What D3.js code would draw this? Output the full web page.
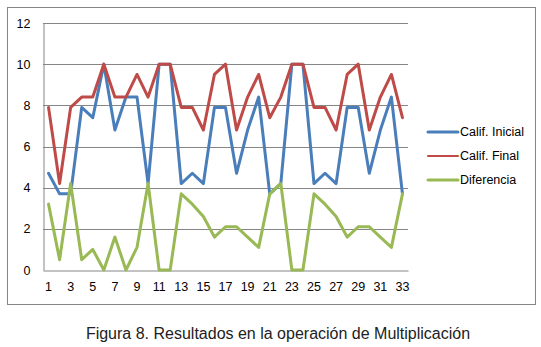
<!DOCTYPE html>
<html><head><meta charset="utf-8">
<script src="https://cdn.jsdelivr.net/npm/d3@7"></script>
<style>body{margin:0;background:#fff}svg{display:block}</style>
</head><body>
<svg id="c" width="541" height="347"></svg>
<script>
const categories = d3.range(1, 34);
const califInicial = [4.7,3.7,3.7,7.9,7.4,10,6.8,8.4,8.4,4.2,10,10,4.2,4.7,4.2,7.9,7.9,4.7,6.8,8.4,3.7,4.2,10,10,4.2,4.7,4.2,7.9,7.9,4.7,6.8,8.4,3.7];
const califFinal = [7.9,4.2,7.9,8.4,8.4,10,8.4,8.4,9.5,8.4,10,10,7.9,7.9,6.8,9.5,10,6.8,8.4,9.5,7.4,8.4,10,10,7.9,7.9,6.8,9.5,10,6.8,8.4,9.5,7.4];
const diferencia = [3.2,0.5,4.2,0.5,1.0,0,1.6,0,1.1,4.2,0,0,3.7,3.2,2.6,1.6,2.1,2.1,1.6,1.1,3.7,4.2,0,0,3.7,3.2,2.6,1.6,2.1,2.1,1.6,1.1,3.7];
const yTicks = [0,2,4,6,8,10,12];
const xTickLabels = categories.filter(d => d % 2 === 1);
const seriesNames = ["Calif. Inicial","Calif. Final","Diferencia"];
const seriesColors = ["#4A7EBB","#BE4B48","#98B954"];
const caption = "Figura 8. Resultados en la operación de Multiplicación";

const svg = d3.select("#c");
const font = "'Liberation Sans', Arial, sans-serif";

svg.append("rect").attr("x",7.5).attr("y",7.5).attr("width",528).attr("height",297)
  .attr("fill","#fff").attr("stroke","#868686").attr("stroke-width",1);

const x = d3.scaleBand().domain(categories).range([43, 408]).paddingInner(0).paddingOuter(0);
const y = d3.scaleLinear().domain([0,12]).range([270, 23]);
const cx = d => x(d) + x.bandwidth()/2;

svg.append("g").selectAll("line").data(yTicks.filter(t=>t>0)).join("line")
  .attr("x1",43).attr("x2",408).attr("y1",d=>Math.round(y(d))+0.5).attr("y2",d=>Math.round(y(d))+0.5)
  .attr("stroke","#868686").attr("stroke-width",1);

const yAxis = svg.append("g").attr("transform","translate(43.5,0)")
  .call(d3.axisLeft(y).tickValues(yTicks).tickSize(0).tickPadding(13));
yAxis.select(".domain").attr("stroke","#868686");
yAxis.selectAll("text").attr("font-family",font).attr("font-size","12.5px").attr("fill","#000");

const xAxis = svg.append("g").attr("transform","translate(0,270.5)")
  .call(d3.axisBottom(x).tickValues(xTickLabels).tickSize(0).tickPadding(12));
xAxis.select(".domain").attr("stroke","#868686");
xAxis.selectAll("text").attr("font-family",font).attr("font-size","12.5px").attr("fill","#000");

const data = [califInicial, califFinal, diferencia];
const line = d3.line().x((d,i)=>cx(categories[i])).y(d=>y(d));
svg.append("g").selectAll("path").data(data).join("path")
  .attr("d", line).attr("fill","none")
  .attr("stroke",(d,i)=>seriesColors[i]).attr("stroke-width",3)
  .attr("stroke-linejoin","round").attr("stroke-linecap","round");

const legY = [132,156,180];
const leg = svg.append("g").selectAll("g").data(seriesNames).join("g")
  .attr("transform",(d,i)=>`translate(0,${legY[i]})`);
leg.append("line").attr("x1",428).attr("x2",458).attr("y1",0).attr("y2",0)
  .attr("stroke",(d,i)=>seriesColors[i]).attr("stroke-width",(d,i)=>i===1?2:3).attr("stroke-linecap","round");
leg.append("text").attr("x",460).attr("y",0).attr("dy","0.35em").text(d=>d)
  .attr("font-family",font).attr("font-size","12.5px").attr("fill","#000");

svg.append("text").attr("x",278).attr("y",339).attr("text-anchor","middle")
  .attr("font-family",font).attr("font-size","16px").attr("fill","#222").text(caption);
</script>
</body></html>
